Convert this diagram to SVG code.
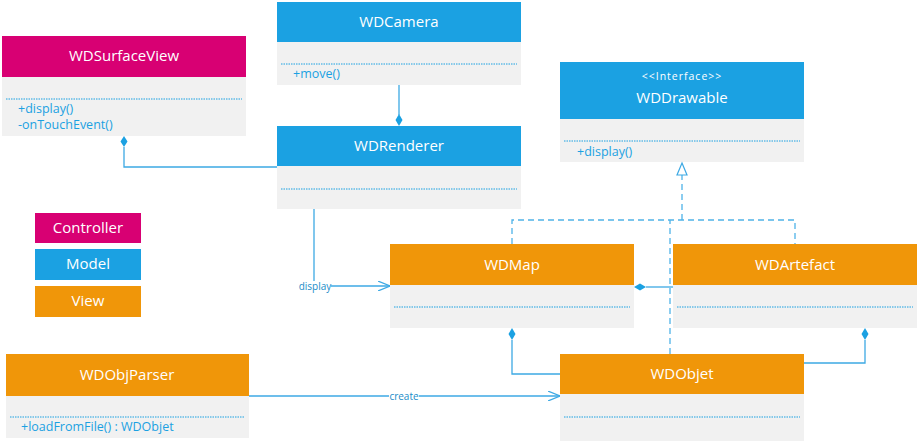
<svg xmlns="http://www.w3.org/2000/svg" width="919" height="441" viewBox="0 0 919 441">
<style>
.hd{stroke:none}
.c{fill:#D80073}.m{fill:#1BA1E2}.v{fill:#F09609}
.body{fill:#F1F1F1}
.sep{stroke:#1BA1E2;stroke-width:1;stroke-dasharray:1.5,1}
.t{font-family:"Open Sans","Noto Sans",sans-serif;font-size:15px;fill:#fff;text-anchor:middle}
.st{font-family:"Open Sans","Noto Sans",sans-serif;font-size:10.5px;fill:#fff;text-anchor:middle;letter-spacing:1px}
.meth{font-family:"Open Sans","Noto Sans",sans-serif;font-size:12.5px;fill:#1BA1E2}
.lbl{font-family:"Open Sans","Noto Sans",sans-serif;font-size:10px;fill:#1A8CC8;text-anchor:middle}
.ln{fill:none;stroke:#3DA9E4;stroke-width:1.3}
.dl{fill:none;stroke:#4FB3E8;stroke-width:1.3;stroke-dasharray:6,4}
.dia{fill:#1BA1E2}
</style>
<defs>
<marker id="open" viewBox="0 0 12 10" refX="12" refY="5" markerWidth="12" markerHeight="10" markerUnits="userSpaceOnUse" orient="auto">
<path d="M0,0 L12,5 L0,10" fill="none" stroke="#3DA9E4" stroke-width="1.2"/>
</marker>
</defs>

<g id="WDSurfaceView">
<rect class="c" x="2" y="36" width="244" height="41"/>
<rect class="body" x="2" y="77" width="244" height="59"/>
<line class="sep" x1="6" y1="99" x2="242" y2="99"/>
<text class="t" x="124" y="61">WDSurfaceView</text>
<text class="meth" x="18" y="113">+display()</text>
<text class="meth" x="18" y="129">-onTouchEvent()</text>
</g>

<g id="WDCamera">
<rect class="m" x="277" y="2" width="244" height="40"/>
<rect class="body" x="277" y="42" width="244" height="43"/>
<line class="sep" x1="281" y1="64" x2="517" y2="64"/>
<text class="t" x="399" y="27">WDCamera</text>
<text class="meth" x="293" y="78">+move()</text>
</g>

<g id="WDRenderer">
<rect class="m" x="277" y="126" width="244" height="40"/>
<rect class="body" x="277" y="166" width="244" height="43"/>
<line class="sep" x1="281" y1="189" x2="517" y2="189"/>
<text class="t" x="399" y="151">WDRenderer</text>
</g>

<g id="WDDrawable">
<rect class="m" x="560" y="62" width="244" height="57"/>
<rect class="body" x="560" y="119" width="244" height="43"/>
<line class="sep" x1="564" y1="141" x2="800" y2="141"/>
<text class="st" x="682" y="80">&lt;&lt;Interface&gt;&gt;</text>
<text class="t" x="682" y="103">WDDrawable</text>
<text class="meth" x="577" y="156">+display()</text>
</g>

<g id="WDMap">
<rect class="v" x="390" y="244" width="244" height="41"/>
<rect class="body" x="390" y="285" width="244" height="43"/>
<line class="sep" x1="394" y1="307" x2="630" y2="307"/>
<text class="t" x="512" y="270">WDMap</text>
</g>

<g id="WDArtefact">
<rect class="v" x="673" y="244" width="244" height="41"/>
<rect class="body" x="673" y="285" width="244" height="43"/>
<line class="sep" x1="677" y1="307" x2="913" y2="307"/>
<text class="t" x="795" y="270">WDArtefact</text>
</g>

<g id="WDObjet">
<rect class="v" x="560" y="354" width="244" height="40"/>
<rect class="body" x="560" y="394" width="244" height="47"/>
<line class="sep" x1="564" y1="417" x2="800" y2="417"/>
<text class="t" x="682" y="379">WDObjet</text>
</g>

<g id="WDObjParser">
<rect class="v" x="6" y="354" width="243" height="42"/>
<rect class="body" x="6" y="396" width="243" height="42"/>
<line class="sep" x1="10" y1="417" x2="245" y2="417"/>
<text class="t" x="127" y="380">WDObjParser</text>
<text class="meth" x="21" y="431">+loadFromFile() : WDObjet</text>
</g>

<g id="legend-controller">
<rect class="c" x="35" y="213" width="106" height="30"/>
<text class="t" x="88" y="233">Controller</text>
</g>
<g id="legend-model">
<rect class="m" x="35" y="249" width="106" height="31"/>
<text class="t" x="88" y="269">Model</text>
</g>
<g id="legend-view">
<rect class="v" x="35" y="286" width="106" height="31"/>
<text class="t" x="88" y="306">View</text>
</g>

<g id="connectors">
<path class="ln" d="M124,147 V167 H277"/>
<path class="dia" d="M124,136 L127.5,141.5 L124,147 L120.5,141.5 Z"/>
<path class="ln" d="M399,85 V115"/>
<path class="dia" d="M399,114 L402.5,120 L399,126 L395.5,120 Z"/>
<path class="ln" d="M314,209 V281"/>
<path class="ln" d="M331,286 H390" marker-end="url(#open)"/>
<text class="lbl" x="315" y="289.5">display</text>
<path class="dl" d="M512,244 V220 H795 V244"/>
<path class="dl" d="M682,220 V175"/>
<path d="M682,163 L687,175 L677,175 Z" fill="#fff" stroke="#3DA9E4" stroke-width="1.2"/>
<path class="dl" d="M670,354 V220"/>
<path class="ln" d="M646,287 H673"/>
<path class="dia" d="M634,287 L640,283.5 L646,287 L640,290.5 Z"/>
<path class="ln" d="M512,340 V374 H560"/>
<path class="dia" d="M512,328 L515.5,334 L512,340 L508.5,334 Z"/>
<path class="ln" d="M865,340 V363 H804"/>
<path class="dia" d="M865,328 L868.5,334 L865,340 L861.5,334 Z"/>
<path class="ln" d="M249,396 H389"/>
<path class="ln" d="M419,396 H560" marker-end="url(#open)"/>
<text class="lbl" x="404" y="399.5">create</text>
</g>
</svg>
